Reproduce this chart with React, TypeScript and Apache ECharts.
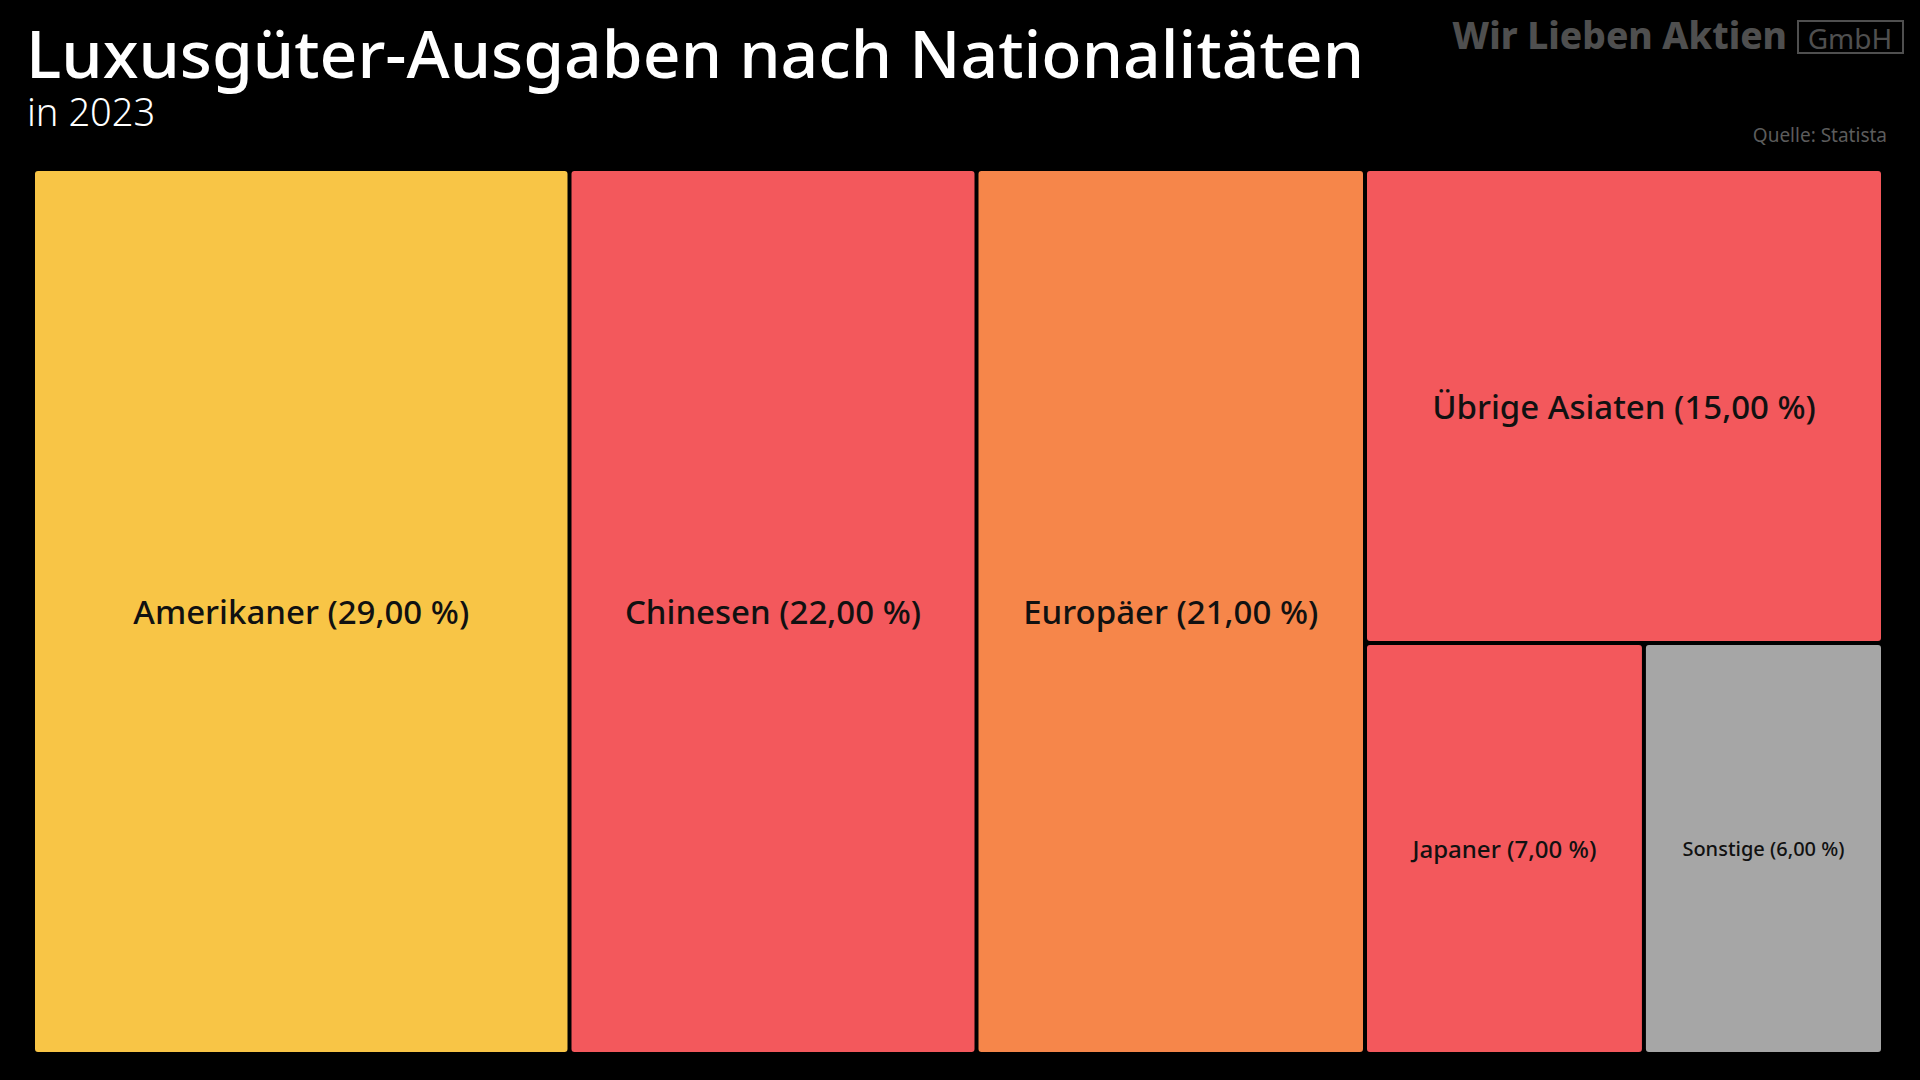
import React, { useEffect, useRef } from "react";
import * as echarts from "echarts";

// ---- data ----
const categories: string[] = [
  "Amerikaner",
  "Chinesen",
  "Europäer",
  "Übrige Asiaten",
  "Japaner",
  "Sonstige",
];
const shares: number[] = [29, 22, 21, 15, 7, 6];

const TITLE = "Luxusgüter-Ausgaben nach Nationalitäten";
const SUBTITLE = "in 2023";
const SOURCE = "Quelle: Statista";
const LOGO_MAIN = "Wir Lieben Aktien";
const LOGO_BOX = "GmbH";

// ---- styles ----
const COLOR_BY_NAME: Record<string, string> = {
  Amerikaner: "#F8C546",
  Chinesen: "#F3585C",
  "Europäer": "#F6864A",
  "Übrige Asiaten": "#F3585C",
  Japaner: "#F3585C",
  Sonstige: "#A6A6A6",
};
const FONT = "'Noto Sans', sans-serif";

function labelSize(v: number): number {
  if (v >= 15) return 33;
  if (v >= 7) return 24;
  return 20;
}

function fmt(v: number): string {
  return v.toFixed(2).replace(".", ",") + " %";
}

export default function App() {
  const ref = useRef<HTMLDivElement>(null);

  useEffect(() => {
    document.body.style.margin = "0";
    document.body.style.background = "#000";
    if (!ref.current) return;
    const chart = echarts.init(ref.current, undefined, { renderer: "svg" });

    const data = categories.map((name, i) => ({
      name,
      value: shares[i],
      itemStyle: { color: COLOR_BY_NAME[name] },
      label: { fontSize: labelSize(shares[i]) },
    }));

    chart.setOption({
      animation: false,
      backgroundColor: "#000",
      graphic: [
        {
          type: "text",
          left: 26,
          top: 19,
          style: {
            text: TITLE,
            fill: "#ffffff",
            font: `500 66px ${FONT}`,
          },
        },
        {
          type: "text",
          left: 27,
          top: 92,
          style: {
            text: SUBTITLE,
            fill: "#ffffff",
            font: `300 38px ${FONT}`,
          },
        },
        {
          type: "text",
          right: 133,
          top: 16,
          style: {
            text: LOGO_MAIN,
            fill: "#4f4f4f",
            font: `800 37px ${FONT}`,
          },
        },
        {
          type: "rect",
          shape: { x: 1798, y: 21, width: 105, height: 32 },
          style: { fill: "none", stroke: "#4f4f4f", lineWidth: 2 },
        },
        {
          type: "text",
          x: 1850,
          y: 38,
          style: {
            text: LOGO_BOX,
            fill: "#4f4f4f",
            font: `400 28px ${FONT}`,
            align: "center",
            verticalAlign: "middle",
          },
        },
        {
          type: "text",
          right: 33,
          top: 125,
          style: {
            text: SOURCE,
            fill: "#5c5c5c",
            font: `400 19px ${FONT}`,
          },
        },
      ],
      series: [
        {
          type: "treemap",
          left: 35,
          top: 171,
          width: 1846,
          height: 881,
          squareRatio: 0.3,
          sort: "desc",
          roam: false,
          nodeClick: false,
          silent: true,
          breadcrumb: { show: false },
          itemStyle: {
            gapWidth: 4,
            borderWidth: 0,
            borderColor: "#000",
            borderRadius: 3,
          },
          label: {
            show: true,
            position: "inside",
            align: "center",
            verticalAlign: "middle",
            color: "#111111",
            fontFamily: FONT,
            fontWeight: 500,
            formatter: (p: any) => `${p.name} (${fmt(p.value)})`,
          },
          emphasis: { disabled: true },
          data,
        },
      ],
    });

    return () => chart.dispose();
  }, []);

  return (
    <div
      ref={ref}
      style={{ width: 1920, height: 1080, background: "#000" }}
    />
  );
}
